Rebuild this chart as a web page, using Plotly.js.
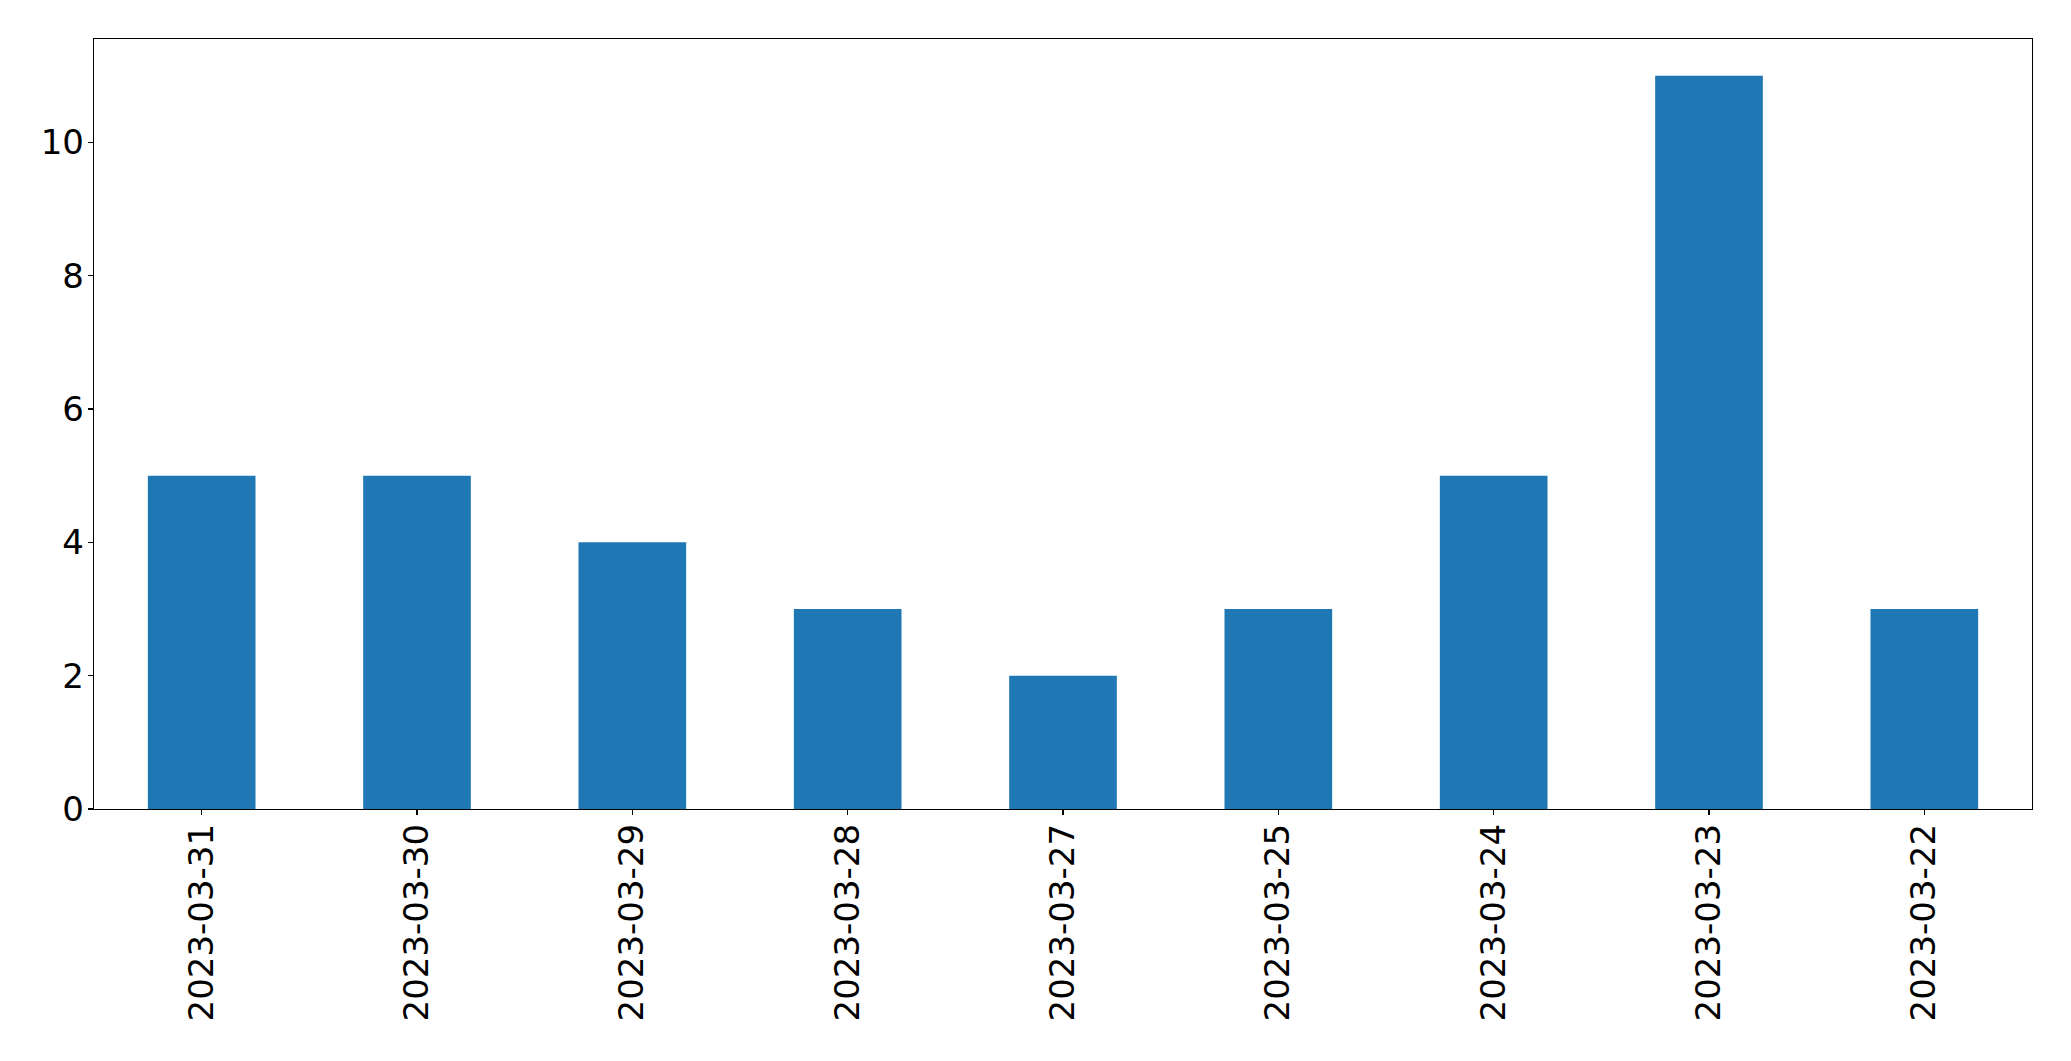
<!DOCTYPE html>
<html>
<head>
<meta charset="utf-8">
<script src="https://cdn.plot.ly/plotly-3.0.1.min.js"></script>
<style>html,body{margin:0;padding:0;background:#fff;}#chart{width:2071px;height:1061px;}</style>
</head>
<body>
<div id="chart"></div>
<script>
const categories = ["2023-03-31","2023-03-30","2023-03-29","2023-03-28","2023-03-27","2023-03-25","2023-03-24","2023-03-23","2023-03-22"];
const counts = [5,5,4,3,2,3,5,11,3];
const yTicks = [0,2,4,6,8,10];

const trace = {
  type: 'bar',
  x: categories,
  y: counts,
  width: 0.5,
  marker: {color: '#1f77b4', line: {width: 0}},
  hoverinfo: 'x+y'
};

const axisFont = {family: 'DejaVu Sans, sans-serif', size: 34, color: '#000'};

const layout = {
  width: 2071,
  height: 1061,
  margin: {l: 94, r: 39, t: 39, b: 252, pad: 0},
  paper_bgcolor: '#fff',
  plot_bgcolor: '#fff',
  showlegend: false,
  bargap: 0.5,
  xaxis: {
    type: 'category',
    range: [-0.5, 8.5],
    tickangle: -90,
    tickfont: axisFont,
    ticks: 'outside',
    ticklen: 5,
    tickwidth: 1.3,
    tickcolor: '#000',
    ticklabelstandoff: -5,
    showline: true,
    linecolor: '#000',
    linewidth: 1.3,
    mirror: true,
    showgrid: false,
    zeroline: false,
    fixedrange: true
  },
  yaxis: {
    range: [0, 11.55],
    tickvals: yTicks,
    ticktext: yTicks.map(String),
    tickfont: axisFont,
    ticks: 'outside',
    ticklen: 5,
    tickwidth: 1.3,
    tickcolor: '#000',
    ticklabelstandoff: -3,
    showline: true,
    linecolor: '#000',
    linewidth: 1.3,
    mirror: true,
    showgrid: false,
    zeroline: false,
    fixedrange: true
  }
};

Plotly.newPlot('chart', [trace], layout, {displayModeBar: false, staticPlot: true});
</script>
</body>
</html>
